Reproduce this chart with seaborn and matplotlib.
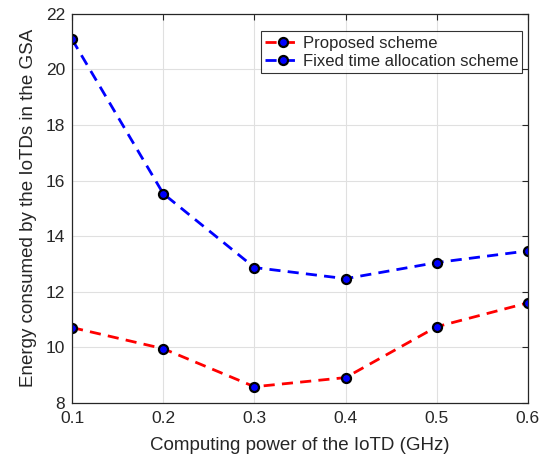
import matplotlib
matplotlib.use("Agg")
import matplotlib.pyplot as plt
import seaborn as sns
import pandas as pd

x_vals = [0.1, 0.2, 0.3, 0.4, 0.5, 0.6]
proposed = [10.71, 9.95, 8.58, 8.91, 10.74, 11.60]
fixed = [21.08, 15.53, 12.87, 12.47, 13.05, 13.47]
series_names = ["Proposed scheme", "Fixed time allocation scheme"]
x_ticks = [0.1, 0.2, 0.3, 0.4, 0.5, 0.6]
y_ticks = [8, 10, 12, 14, 16, 18, 20, 22]

df = pd.DataFrame({
    "x": x_vals * 2,
    "y": proposed + fixed,
    "scheme": [series_names[0]] * len(x_vals) + [series_names[1]] * len(x_vals),
})

sns.set_style("white")
plt.rcParams["font.family"] = ["Liberation Sans", "DejaVu Sans"]

fig = plt.figure(figsize=(5.42, 4.62), dpi=100)
ax = fig.add_axes([0.133, 0.128, 0.841, 0.842])

sns.lineplot(data=df, x="x", y="y", hue="scheme", style="scheme",
             palette={series_names[0]: "#ff0000", series_names[1]: "#0000ff"},
             dashes={series_names[0]: (4, 2.6), series_names[1]: (4, 2.6)},
             markers={series_names[0]: "o", series_names[1]: "o"},
             ax=ax, linewidth=2.0, markersize=6.5, markeredgecolor="black",
             markeredgewidth=1.6, markerfacecolor="#0000ff", legend=True)

for line in ax.get_lines():
    line.set_markerfacecolor("#0000ff")
    line.set_markeredgecolor("black")

ax.set_xlim(0.1, 0.6)
ax.set_ylim(8, 22)
ax.set_xticks(x_ticks)
ax.set_xticklabels([f"{t:g}" for t in x_ticks])
ax.set_yticks(y_ticks)
ax.grid(True, color="#e0e0e0", linewidth=0.8)
ax.set_axisbelow(True)
ax.tick_params(direction="in", top=True, right=True, length=4, width=0.8,
               labelsize=12.5, colors="#262626")
ax.tick_params(axis="x", pad=6)
ax.tick_params(axis="y", pad=5)
for s in ax.spines.values():
    s.set_color("#262626")
    s.set_linewidth(0.9)
ax.set_xlabel("Computing power of the IoTD (GHz)", fontsize=13.5, labelpad=8, color="#262626")
ax.set_ylabel("Energy consumed by the IoTDs in the GSA", fontsize=13.5, labelpad=6, color="#262626")

handles, labels = ax.get_legend_handles_labels()
for h in handles:
    h.set_markerfacecolor("#0000ff")
    h.set_markeredgecolor("black")
leg = ax.legend(handles, labels, loc="upper right", bbox_to_anchor=(0.988, 0.955),
                fontsize=12, frameon=True, fancybox=False, handlelength=2.1,
                handletextpad=0.15, borderpad=0.25, labelspacing=0.2, borderaxespad=0)
leg.get_frame().set_edgecolor("black")
leg.get_frame().set_linewidth(0.8)

fig.savefig("out.png", dpi=100)
